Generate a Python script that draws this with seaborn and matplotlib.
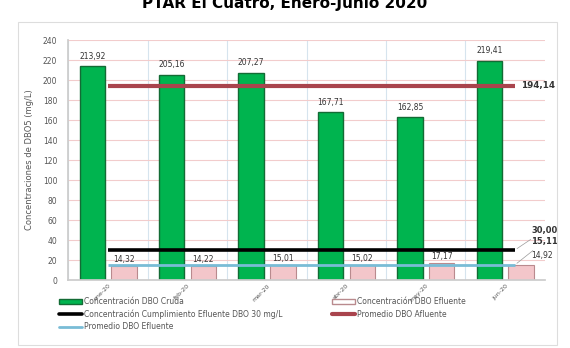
"""Bar chart of DBO5 concentrations, PTAR El Cuatro."""

import matplotlib

matplotlib.use("Agg")
import matplotlib.pyplot as plt
import numpy as np
import pandas as pd
import seaborn as sns
from matplotlib.lines import Line2D
from matplotlib.patches import Patch, Rectangle

TITLE = "PTAR El Cuatro, Enero-Junio 2020"
Y_LABEL = "Concentraciones de DBO5 (mg/L)"

months = ["ene-20", "feb-20", "mar-20", "abr-20", "may-20", "jun-20"]
dbo_cruda = [213.92, 205.16, 207.27, 167.71, 162.85, 219.41]
dbo_efluente = [14.32, 14.22, 15.01, 15.02, 17.17, 14.92]
limite_efluente = 30.00
prom_afluente = 194.14
prom_efluente = 15.11
y_ticks = list(range(0, 241, 20))

SERIE_CRUDA = "Concentración DBO Cruda"
SERIE_EFL = "Concentración DBO Efluente"
LBL_LIMITE = "Concentración Cumplimiento Efluente DBO 30 mg/L"
LBL_PROM_AFL = "Promedio DBO Afluente"
LBL_PROM_EFL = "Promedio DBO Efluente"

GREEN = "#00b44f"
GREEN_EDGE = "#136b35"
PINK = "#f3c6ca"
PINK_EDGE = "#b98a8e"
RED = "#a9444d"
BLUE = "#79bcd6"
TXT = "#555555"


def fmt(v):
    return f"{v:.2f}".replace(".", ",")


df = pd.DataFrame(
    {
        "Mes": months * 2,
        "Serie": [SERIE_CRUDA] * len(months) + [SERIE_EFL] * len(months),
        "DBO": dbo_cruda + dbo_efluente,
    }
)

sns.set_theme(style="white")
plt.rcParams["font.family"] = ["DejaVu Sans"]

fig = plt.figure(figsize=(5.7, 3.48), dpi=100)
ax = fig.add_axes([0.12, 0.195, 0.836, 0.69])

sns.barplot(
    data=df,
    x="Mes",
    y="DBO",
    hue="Serie",
    hue_order=[SERIE_CRUDA, SERIE_EFL],
    palette=[GREEN, PINK],
    saturation=1,
    width=0.8,
    gap=0.2,
    legend=False,
    ax=ax,
)

n = len(months)
green_bars, pink_bars = ax.containers[0], ax.containers[1]
for b in green_bars:
    b.set_edgecolor(GREEN_EDGE)
    b.set_linewidth(1.0)
for b in pink_bars:
    b.set_edgecolor(PINK_EDGE)
    b.set_linewidth(0.8)

ax.bar_label(green_bars, labels=[fmt(v) for v in dbo_cruda], padding=4,
             fontsize=5.5, color="#333333")
ax.bar_label(pink_bars, labels=[fmt(v) for v in dbo_efluente[:-1]] + [""],
             padding=1.5, fontsize=5.5, color="#333333")

# horizontal reference lines across the categories
xs = np.arange(n)
x_line = [xs[0], xs[-1] + 0.12]
ax.plot(x_line, [prom_afluente] * 2, color=RED, lw=3, solid_capstyle="butt", zorder=3)
ax.plot(x_line, [limite_efluente] * 2, color="black", lw=2.6, solid_capstyle="butt", zorder=3)
ax.plot(x_line, [prom_efluente] * 2, color=BLUE, lw=2, solid_capstyle="butt", zorder=3)

ax.text(xs[-1] + 0.2, prom_afluente, fmt(prom_afluente), fontsize=6.3,
        fontweight="bold", color="#333333", va="center")
arrow = dict(arrowstyle="-", color="#999999", lw=0.5)
ax.annotate(fmt(limite_efluente), xy=(xs[-1] + 0.12, limite_efluente),
            xytext=(xs[-1] + 0.33, 50), fontsize=6, fontweight="bold",
            color="#333333", va="center", arrowprops=arrow)
ax.annotate(fmt(prom_efluente), xy=(xs[-1] + 0.12, prom_efluente),
            xytext=(xs[-1] + 0.33, 39), fontsize=6, fontweight="bold",
            color="#333333", va="center", arrowprops=arrow)
ax.text(xs[-1] + 0.33, 25, fmt(dbo_efluente[-1]), fontsize=5.5,
        color="#333333", va="center")

ax.set_ylim(0, 240)
ax.set_xlim(-0.5, n - 0.5)
ax.set_yticks(y_ticks)
ax.set_xticks(xs - 0.5, minor=True)
ax.tick_params(axis="y", labelsize=5.5, labelcolor=TXT, length=0, pad=8)
ax.tick_params(axis="x", labelsize=4.5, labelcolor=TXT, length=0, pad=2)
ax.tick_params(axis="x", which="minor", length=3, color="#dddddd")
for lbl in ax.get_xticklabels():
    lbl.set_rotation(45)
    lbl.set_ha("right")
    lbl.set_rotation_mode("anchor")

ax.grid(axis="y", color="#f2cccc", lw=0.8)
ax.grid(axis="x", which="minor", color="#d6e4ee", lw=0.8)
ax.set_axisbelow(True)
for side in ["top", "right"]:
    ax.spines[side].set_visible(False)
ax.spines["left"].set_color("#cccccc")
ax.spines["bottom"].set_color("#cccccc")
ax.set_xlabel("")
ax.set_ylabel(Y_LABEL, fontsize=6, color=TXT, labelpad=6)

handles = [
    Patch(facecolor=GREEN, edgecolor=GREEN_EDGE, label=SERIE_CRUDA),
    Line2D([], [], color="black", lw=2.6, label=LBL_LIMITE),
    Line2D([], [], color=BLUE, lw=2, label=LBL_PROM_EFL),
    Patch(facecolor="white", edgecolor=PINK_EDGE, label=SERIE_EFL),
    Line2D([], [], color=RED, lw=3, label=LBL_PROM_AFL),
]
fig.legend(
    handles=handles,
    loc="upper left",
    bbox_to_anchor=(0.098, 0.155),
    ncol=2,
    frameon=False,
    fontsize=5.5,
    labelcolor=TXT,
    handlelength=3,
    handleheight=0.6,
    handletextpad=0.3,
    labelspacing=0.45,
    columnspacing=6.5,
    borderaxespad=0,
)

fig.patches.append(
    Rectangle((0.032, 0.009), 0.945, 0.928, transform=fig.transFigure,
              fill=False, edgecolor="#dddddd", lw=0.8)
)
fig.text(0.5, 0.99, TITLE, ha="center", va="center", fontsize=11,
         fontweight="bold", color="black")

fig.savefig("out.png", dpi=100)
plt.close(fig)
